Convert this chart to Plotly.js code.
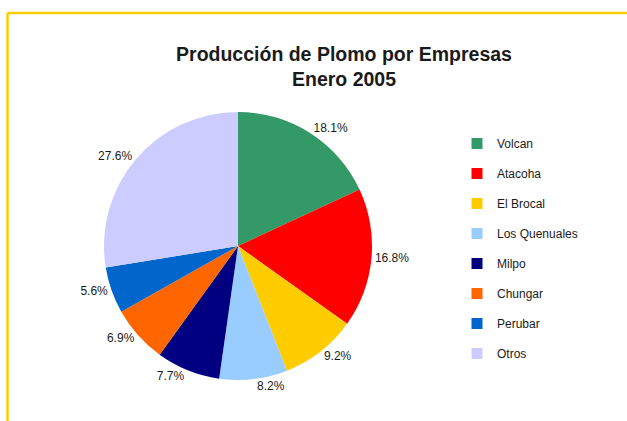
<!DOCTYPE html>
<html>
<head>
<meta charset="utf-8">
<script src="https://cdn.plot.ly/plotly-3.0.1.min.js"></script>
<style>
html,body{margin:0;padding:0;background:#fff;}
#chart{width:627px;height:421px;}
</style>
</head>
<body>
<div id="chart"></div>
<script>
const companies = ["Volcan", "Atacoha", "El Brocal", "Los Quenuales", "Milpo", "Chungar", "Perubar", "Otros"];
const shares = [18.1, 16.8, 9.2, 8.2, 7.7, 6.9, 5.6, 27.6];
const colors = ["#339966", "#FF0000", "#FFCC00", "#99CCFF", "#000080", "#FF6600", "#0066CC", "#CCCCFF"];
const titleText = "Producción de Plomo por Empresas<br>Enero 2005";

const FONT = "'Liberation Sans', Arial, sans-serif";
const W = 627, H = 421;
const cx = 238, cy = 246, R = 134;

const traces = [{
  type: "pie",
  labels: companies,
  values: shares,
  marker: {colors: colors, line: {width: 0}},
  sort: false,
  direction: "clockwise",
  rotation: 0,
  textposition: "outside",
  texttemplate: "%{value:.1f}%",
  outsidetextfont: {family: FONT, size: 12, color: "#1a1a1a"},
  showlegend: false,
  hoverinfo: "label+value",
  domain: {x: [(cx - R) / W, (cx + R) / W], y: [(H - cy - R) / H, (H - cy + R) / H]}
}];

companies.forEach((c, i) => {
  traces.push({
    type: "scatter",
    mode: "markers",
    x: [null], y: [null],
    name: c,
    legendgroup: c,
    marker: {symbol: "square", size: 11, color: colors[i]},
    showlegend: true,
    hoverinfo: "skip"
  });
});

const layout = {
  width: W, height: H,
  margin: {l: 0, r: 0, t: 0, b: 0},
  paper_bgcolor: "#fff",
  plot_bgcolor: "#fff",
  title: {
    text: titleText,
    font: {family: FONT, size: 19.5, color: "#1a1a1a", weight: "bold"},
    x: 344 / W, xanchor: "center",
    y: 1 - 61 / H, yanchor: "top"
  },
  xaxis: {visible: false},
  yaxis: {visible: false},
  showlegend: true,
  legend: {
    x: 457 / W, xanchor: "left",
    y: 1 - 129 / H, yanchor: "top",
    font: {family: FONT, size: 12, color: "#1a1a1a"},
    tracegroupgap: 11,
    bgcolor: "rgba(0,0,0,0)"
  },
  shapes: [
    {type: "line", xref: "paper", yref: "paper", x0: 7.5 / W, x1: 1, y0: 1 - 13 / H, y1: 1 - 13 / H, line: {color: "#FFCC00", width: 2.5}},
    {type: "line", xref: "paper", yref: "paper", x0: 7.5 / W, x1: 7.5 / W, y0: 0, y1: 1 - 13 / H, line: {color: "#FFCC00", width: 2.5}}
  ]
};

Plotly.newPlot("chart", traces, layout, {displayModeBar: false, staticPlot: true});
</script>
</body>
</html>
